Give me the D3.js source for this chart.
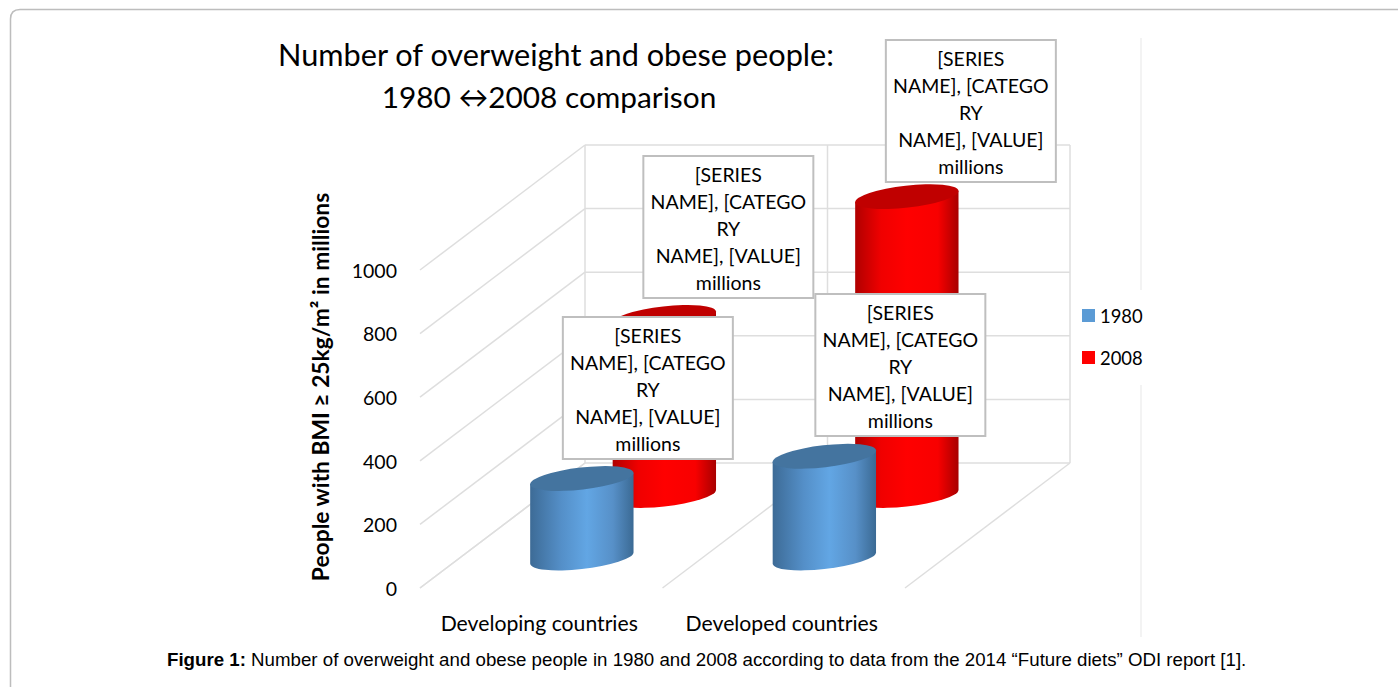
<!DOCTYPE html>
<html>
<head>
<meta charset="utf-8">
<script src="https://cdnjs.cloudflare.com/ajax/libs/d3/7.8.5/d3.min.js"></script>
<style>
  html, body { margin: 0; padding: 0; background: #fff; overflow: hidden; }
  text { font-family: Lato, sans-serif; fill: #000; }
  .caption { font-family: "Liberation Sans", Arial, sans-serif; font-size: 18.7px; }
</style>
</head>
<body>
<div id="chart"></div>
<script>
const categories = ['Developing countries', 'Developed countries'];
const seriesNames = ['1980', '2008'];
const values1980 = [250, 320];
const values2008 = [560, 940];
const yTicks = [0, 200, 400, 600, 800, 1000];
const labelLines = ['[SERIES', 'NAME], [CATEGO', 'RY', 'NAME], [VALUE]', 'millions'];

const width = 1398, height = 687;
const svg = d3.select('#chart').append('svg')
    .attr('width', width)
    .attr('height', height);

// Page frame of the figure
svg.append('path')
    .attr('d', 'M10.5,687 V19 Q10.5,9.5 20,9.5 H1398')
    .attr('fill', 'none')
    .attr('stroke', '#bdbdbd')
    .attr('stroke-width', 1.5);

// Faint edge of the pasted chart
svg.append('line')
    .attr('x1', 1141).attr('x2', 1141)
    .attr('y1', 38).attr('y2', 637)
    .attr('stroke', '#efefef')
    .attr('stroke-width', 1.5);

// Projection: front plane plus a depth vector towards the back wall
const depth = {dx: 165, dy: -125};
const y = d3.scaleLinear().domain([0, 1000]).range([588, 270]);
const x = d3.scaleBand().domain(categories).range([420, 905]);
const z = d3.scaleBand().domain(seriesNames).range([-0.01, 0.99]);
const gridColor = '#dedede';

const grid = svg.append('g')
    .attr('fill', 'none')
    .attr('stroke', gridColor)
    .attr('stroke-width', 1.5);

yTicks.forEach(function(t) {
    // side wall
    grid.append('line')
        .attr('x1', x.range()[0]).attr('y1', y(t))
        .attr('x2', x.range()[0] + depth.dx).attr('y2', y(t) + depth.dy);
    // back wall
    grid.append('line')
        .attr('x1', x.range()[0] + depth.dx).attr('y1', y(t) + depth.dy)
        .attr('x2', x.range()[1] + depth.dx).attr('y2', y(t) + depth.dy);
});

const floorStops = [x.range()[0], x(categories[1]), x.range()[1]];
floorStops.forEach(function(fx) {
    grid.append('line')
        .attr('x1', fx).attr('y1', y(0))
        .attr('x2', fx + depth.dx).attr('y2', y(0) + depth.dy);
    grid.append('line')
        .attr('x1', fx + depth.dx).attr('y1', y(0) + depth.dy)
        .attr('x2', fx + depth.dx).attr('y2', y(1000) + depth.dy);
});

// Cylinder shading
const defs = svg.append('defs');
function addGradient(id, stops) {
    const g = defs.append('linearGradient').attr('id', id);
    stops.forEach(function(s) {
        g.append('stop').attr('offset', s[0]).attr('stop-color', s[1]);
    });
}
addGradient('shade1980', [[0, '#3d6b96'], [0.3, '#548fc8'], [0.55, '#62a6e4'], [0.8, '#5790c8'], [1, '#3b6a94']]);
addGradient('shade2008', [[0, '#b00000'], [0.25, '#f00000'], [0.5, '#ff0000'], [0.8, '#f80000'], [1, '#a80000']]);

const capColor = {'1980': '#44749f', '2008': '#c00000'};
const seriesValues = {'1980': values1980, '2008': values2008};

// Ellipse geometry for the tilted cylinder ends
const a = 52, b = 11, tilt = -6.5;
const th = tilt * Math.PI / 180;
const xExt = Math.sqrt(a * a * Math.cos(th) ** 2 + b * b * Math.sin(th) ** 2);
const yOff = (a * a - b * b) * Math.sin(th) * Math.cos(th) / xExt;

function cylCentre(cat, ser) {
    const t = z(ser) + z.bandwidth() / 2;
    return (x(cat) + x.bandwidth() / 2 + 1) + t * depth.dx;
}
function cylFloor(ser) {
    const t = z(ser) + z.bandwidth() / 2;
    return y(0) + t * depth.dy;
}

const plot = svg.append('g');
['2008', '1980'].forEach(function(ser) {
    categories.forEach(function(cat, i) {
        const v = seriesValues[ser][i];
        const cx = cylCentre(cat, ser);
        const yB = cylFloor(ser);
        const yT = yB - (y(0) - y(v));
        const c = plot.append('g').attr('class', 'cylinder');
        c.append('path')
            .attr('d', 'M' + (cx - xExt) + ',' + (yT - yOff) +
                ' L' + (cx - xExt) + ',' + (yB - yOff) +
                ' A' + a + ',' + b + ' ' + tilt + ' 0 0 ' + (cx + xExt) + ',' + (yB + yOff) +
                ' L' + (cx + xExt) + ',' + (yT + yOff) + ' Z')
            .attr('fill', 'url(#shade' + ser + ')');
        c.append('ellipse')
            .attr('rx', a).attr('ry', b)
            .attr('transform', 'translate(' + cx + ',' + yT + ') rotate(' + tilt + ')')
            .attr('fill', capColor[ser]);
    });
});

// Data labels, unfilled template text as in the source figure
const labelBoxes = [
    {cat: categories[0], ser: '1980', shiftX: 66, boxY: 317},
    {cat: categories[0], ser: '2008', shiftX: 64, boxY: 156},
    {cat: categories[1], ser: '1980', shiftX: 76, boxY: 294},
    {cat: categories[1], ser: '2008', shiftX: 64, boxY: 40}
];
const boxW = 170, boxH = 142, lineH = 27;
labelBoxes.forEach(function(d) {
    const cx = cylCentre(d.cat, d.ser) + d.shiftX;
    const g = svg.append('g').attr('class', 'data-label');
    g.append('rect')
        .attr('x', cx - boxW / 2).attr('y', d.boxY)
        .attr('width', boxW).attr('height', boxH)
        .attr('fill', '#fff')
        .attr('stroke', '#bfbfbf')
        .attr('stroke-width', 2);
    labelLines.forEach(function(line, i) {
        g.append('text')
            .attr('x', cx).attr('y', d.boxY + 26 + i * lineH)
            .attr('text-anchor', 'middle')
            .style('font-size', '19.5px')
            .text(line);
    });
});

// Y axis
const yAxis = svg.append('g')
    .attr('transform', 'translate(405,1)')
    .call(d3.axisLeft(y).tickValues(yTicks).tickSize(0).tickPadding(8).tickFormat(d3.format('d')));
yAxis.select('.domain').remove();
yAxis.selectAll('text')
    .style('font-family', 'Lato, sans-serif')
    .style('font-size', '19.5px');

svg.append('text')
    .attr('transform', 'translate(329,387) rotate(-90)')
    .attr('text-anchor', 'middle')
    .style('font-size', '22.8px')
    .style('font-weight', 'bold')
    .text('People with BMI \u2265 25kg/m\u00b2 in millions');

// Category labels
svg.selectAll('.cat-label')
    .data(categories)
    .join('text')
    .attr('class', 'cat-label')
    .attr('x', (d) => x(d) + x.bandwidth() / 2 - 2)
    .attr('y', 631)
    .attr('text-anchor', 'middle')
    .style('font-size', '21.2px')
    .text((d) => d);

// Title
svg.append('text')
    .attr('x', 556).attr('y', 66)
    .attr('text-anchor', 'middle')
    .style('font-size', '30.7px')
    .text('Number of overweight and obese people:');
svg.append('text')
    .attr('x', 549).attr('y', 108)
    .attr('text-anchor', 'middle')
    .style('font-size', '29.8px')
    .text('1980 \u21942008 comparison');

// Legend
const legendColor = d3.scaleOrdinal().domain(seriesNames).range(['#5b9bd5', '#ff0000']);
const legendY = d3.scalePoint().domain(seriesNames).range([316, 358]);
svg.append('rect')
    .attr('x', 1074).attr('y', 290)
    .attr('width', 82).attr('height', 95)
    .attr('fill', '#fff');
seriesNames.forEach(function(s) {
    svg.append('rect')
        .attr('x', 1082).attr('y', legendY(s) - 7)
        .attr('width', 13).attr('height', 13)
        .attr('fill', legendColor(s));
    svg.append('text')
        .attr('x', 1100).attr('y', legendY(s) + 7)
        .style('font-size', '18.4px')
        .text(s);
});

// Caption
const caption = svg.append('text')
    .attr('class', 'caption')
    .attr('x', 167).attr('y', 666);
caption.append('tspan').style('font-family', '"Liberation Sans", Arial, sans-serif').style('font-weight', 'bold').text('Figure 1:');
caption.append('tspan').style('font-family', '"Liberation Sans", Arial, sans-serif').text(' Number of overweight and obese people in 1980 and 2008 according to data from the 2014 \u201cFuture diets\u201d ODI report [1].');
</script>
</body>
</html>
